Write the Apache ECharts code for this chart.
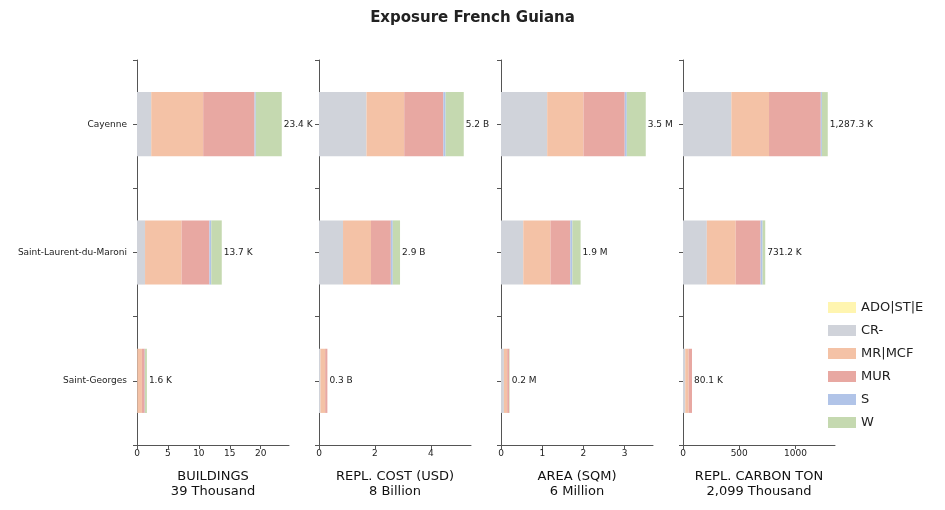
<!DOCTYPE html>
<html>
<head>
<meta charset="utf-8">
<title>Exposure French Guiana</title>
<script src="https://cdn.jsdelivr.net/npm/echarts@6/dist/echarts.min.js"></script>
<style>
  body { margin: 0; background: #fff; }
  #chart { width: 945px; height: 510px; }
</style>
</head>
<body>
<div id="chart"></div>
<script>
// categories and series
var regions = ['Cayenne', 'Saint-Laurent-du-Maroni', 'Saint-Georges'];
var classes = ['ADO|ST|E', 'CR-', 'MR|MCF', 'MUR', 'S', 'W'];
var colors = ['#fff5b0', '#d0d3da', '#f4c2a6', '#e8a8a2', '#b1c4e8', '#c5d9b0'];

// buildings (thousands), per class, per region
var buildings = [
  [0, 0, 0],
  [2.3, 1.3, 0.05],
  [8.4, 5.9, 0.75],
  [8.3, 4.5, 0.45],
  [0.2, 0.3, 0.05],
  [4.2, 1.7, 0.3]
];
// replacement cost (billion USD)
var replCost = [
  [0, 0, 0],
  [1.7, 0.86, 0.05],
  [1.35, 1.0, 0.17],
  [1.4, 0.71, 0.08],
  [0.08, 0.07, 0],
  [0.65, 0.26, 0]
];
// area (million sqm)
var area = [
  [0, 0, 0],
  [1.12, 0.54, 0.07],
  [0.88, 0.66, 0.08],
  [1.0, 0.48, 0.05],
  [0.05, 0.05, 0],
  [0.46, 0.2, 0.01]
];
// replacement carbon (thousand ton)
var carbon = [
  [0, 0, 0],
  [430, 212, 20],
  [335, 257, 30],
  [460, 221, 30.1],
  [10, 18, 0],
  [52.3, 23.2, 0]
];

var panelNames = ['BUILDINGS\n39 Thousand', 'REPL. COST (USD)\n8 Billion', 'AREA (SQM)\n6 Million', 'REPL. CARBON TON\n2,099 Thousand'];
var panelUnits = ['K', 'B', 'M', 'K'];
var panelIntervals = [5, 2, 1, 500];
var panels = [buildings, replCost, area, carbon];

var lefts = [137, 319, 501, 683];
var font = 'DejaVu Sans';

// half-band slots: their edges fall on band edges and band centres
var halfSlots = [];
regions.forEach(function (r) { halfSlots.push(r + ' a', r + ' b'); });

function totals(data) {
  return regions.map(function (r, i) {
    var s = 0;
    data.forEach(function (row) { s += row[i]; });
    return s;
  });
}

var grids = [], xAxes = [], yAxes = [], series = [];
panels.forEach(function (data, g) {
  var tot = totals(data);
  grids.push({ left: lefts[g], width: 152, top: 60, bottom: 65 });
  xAxes.push({
    gridIndex: g, type: 'value', min: 0, max: Math.max.apply(null, tot) * 1.05,
    interval: panelIntervals[g],
    name: panelNames[g], nameLocation: 'middle', nameGap: 24,
    nameTextStyle: { fontFamily: font, fontSize: 13, lineHeight: 15, color: '#111' },
    splitLine: { show: false },
    axisLine: { show: true, onZero: false, lineStyle: { color: '#555' } },
    axisTick: { show: true, length: 4, lineStyle: { color: '#555' } },
    axisLabel: {
      fontFamily: font, fontSize: 9, color: '#222', margin: 4, showMaxLabel: false,
      formatter: function (v) { return String(v); }
    }
  });
  // category axis: labels
  yAxes.push({
    gridIndex: g, type: 'category', data: regions, inverse: true,
    axisLine: { show: true, lineStyle: { color: '#555' } },
    axisTick: { show: false },
    axisLabel: { show: g === 0, fontFamily: font, fontSize: 9, color: '#222', margin: 10 }
  });
  // helper axis: tick marks only
  yAxes.push({
    gridIndex: g, type: 'category', data: halfSlots, inverse: true, position: 'left',
    axisLine: { show: false },
    axisTick: { show: true, interval: 0, length: 4, lineStyle: { color: '#555' } },
    axisLabel: { show: false, interval: 0 }
  });
  data.forEach(function (vals, k) {
    var s = {
      type: 'bar', name: classes[k], stack: 'p' + g,
      xAxisIndex: g, yAxisIndex: 2 * g, barWidth: '50%',
      itemStyle: { color: colors[k] },
      data: vals
    };
    if (k === data.length - 1) {
      s.label = {
        show: true, position: 'right', distance: 2,
        fontFamily: font, fontSize: 9, color: '#222',
        formatter: function (p) {
          var t = tot[p.dataIndex];
          return t.toLocaleString('en-US', { minimumFractionDigits: 1, maximumFractionDigits: 1 }) + ' ' + panelUnits[g];
        }
      };
    }
    series.push(s);
  });
});

var chart = echarts.init(document.getElementById('chart'));
chart.setOption({
  animation: false,
  title: {
    text: 'Exposure French Guiana', left: 'center', top: 6,
    textStyle: { fontFamily: font, fontSize: 15, fontWeight: 'bold', color: '#222' }
  },
  legend: {
    orient: 'vertical', left: 823, top: 296,
    itemWidth: 28, itemHeight: 11, itemGap: 10,
    data: classes,
    textStyle: { fontFamily: font, fontSize: 13, color: '#222' },
    icon: 'rect'
  },
  grid: grids,
  xAxis: xAxes,
  yAxis: yAxes,
  series: series
});
</script>
</body>
</html>
